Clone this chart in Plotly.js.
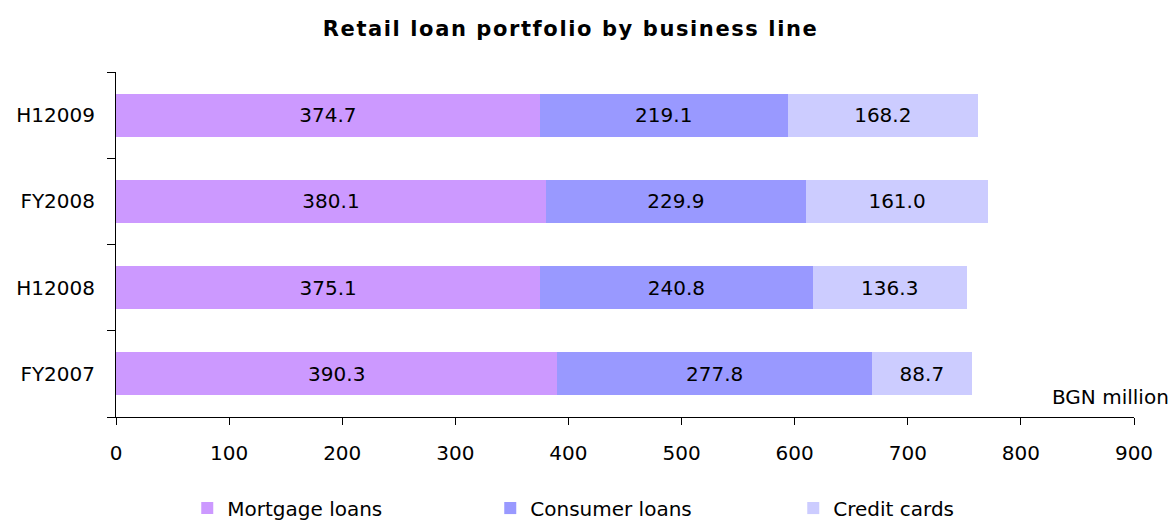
<!DOCTYPE html>
<html>
<head>
<meta charset="utf-8">
<script src="https://cdn.plot.ly/plotly-3.0.1.min.js"></script>
<style>html,body{margin:0;padding:0;background:#fff;}#chart{width:1174px;height:520px;}
.gtitle{letter-spacing:1.6px;}</style>
</head>
<body>
<div id="chart"></div>
<script>
const categories = ['FY2007', 'H12008', 'FY2008', 'H12009'];
const mortgage = [390.3, 375.1, 380.1, 374.7];
const consumer = [277.8, 240.8, 229.9, 219.1];
const credit = [88.7, 136.3, 161.0, 168.2];
const seriesNames = ['Mortgage loans', 'Consumer loans', 'Credit cards'];
const seriesColors = ['#CC99FF', '#9999FF', '#CCCCFF'];
const xTicks = [0, 100, 200, 300, 400, 500, 600, 700, 800, 900];

const FONT = 'DejaVu Sans, sans-serif';
const series = [mortgage, consumer, credit];
const traces = series.map((vals, i) => ({
  type: 'bar',
  orientation: 'h',
  name: seriesNames[i],
  y: categories,
  x: vals,
  marker: {color: seriesColors[i], line: {width: 0}},
  text: vals.map(v => v.toFixed(1)),
  texttemplate: '%{text}',
  textposition: 'inside',
  insidetextanchor: 'middle',
  constraintext: 'none',
  textfont: {family: FONT, size: 20, color: '#000'},
  hoverinfo: 'x+name'
}));

const layout = {
  width: 1174, height: 520,
  margin: {l: 116, r: 40, t: 72, b: 103, autoexpand: false},
  paper_bgcolor: '#fff', plot_bgcolor: '#fff',
  barmode: 'stack',
  bargap: 0.5,
  title: {text: 'Retail loan portfolio by business line', x: 0.486, xanchor: 'center', y: 0.945, yanchor: 'middle',
          font: {family: 'DejaVu Sans, sans-serif', size: 21, color: '#000', weight: 'bold'}},
  font: {family: FONT, size: 20, color: '#000'},
  xaxis: {
    range: [0, 900], tickvals: xTicks, ticktext: xTicks.map(String),
    showgrid: false, zeroline: false, showline: true, linecolor: '#000', linewidth: 1,
    ticks: 'outside', ticklen: 7, tickcolor: '#000', ticklabelstandoff: 11,
    tickfont: {family: FONT, size: 20, color: '#000'}, fixedrange: true
  },
  yaxis: {
    type: 'category', categoryorder: 'array', categoryarray: categories,
    range: [-0.5, 3.5], showgrid: false, zeroline: false, showline: true, linecolor: '#000', linewidth: 1,
    ticks: 'outside', tickson: 'boundaries', ticklen: 8, tickcolor: '#000', ticklabelstandoff: 16,
    tickfont: {family: FONT, size: 20, color: '#000'}, fixedrange: true
  },
  legend: {
    orientation: 'h', x: 0.07, xanchor: 'left', y: -0.264, yanchor: 'middle',
    entrywidth: 258, entrywidthmode: 'pixels', traceorder: 'normal',
    font: {family: FONT, size: 20, color: '#000'}, itemwidth: 30
  },
  annotations: [{
    text: 'BGN million', xref: 'paper', yref: 'paper', x: 1.036, y: 0.058,
    xanchor: 'right', yanchor: 'middle', showarrow: false,
    font: {family: FONT, size: 20, color: '#000'}
  }]
};

Plotly.newPlot('chart', traces, layout, {displayModeBar: false, staticPlot: true});
</script>
</body>
</html>
